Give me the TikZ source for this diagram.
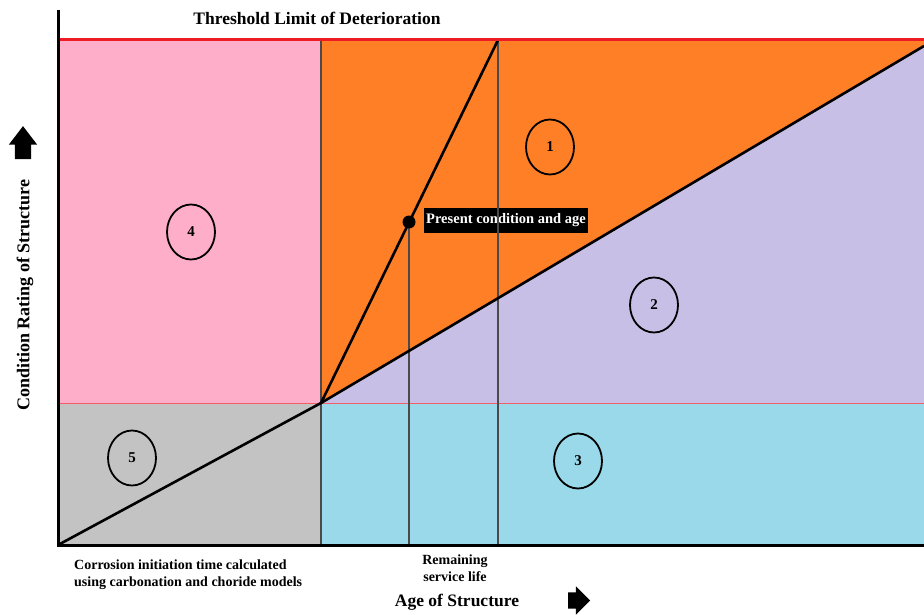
\documentclass[tikz,border=0pt]{standalone}
\usepackage{fontspec}
\setmainfont{Liberation Serif}
\usepackage{xcolor}
\usetikzlibrary{shapes.arrows,shapes.geometric}
\definecolor{rosefill}{HTML}{FFAEC9}
\definecolor{orangefill}{HTML}{FF7F27}
\definecolor{lavfill}{HTML}{C8BFE7}
\definecolor{turqfill}{HTML}{99D9EA}
\definecolor{grayfill}{HTML}{C3C3C3}
\definecolor{limitred}{HTML}{ED1C24}
\definecolor{guideline}{HTML}{4A4A4A}

\begin{document}
\begin{tikzpicture}[
    x=1pt, y=-1pt,
    every node/.style={font=\bfseries},
    zone/.style={ellipse, draw, line width=1.8pt, minimum width=48pt, minimum height=55pt, inner sep=0pt, font=\bfseries\fontsize{15}{17}\selectfont},
    guide/.style={draw=guideline, line width=1.2pt},
    curve/.style={draw=black, line width=2.6pt},
    axis/.style={draw=black, line width=3pt},
    bigtext/.style={font=\bfseries\fontsize{17.5}{20}\selectfont},
    smalltext/.style={font=\bfseries\fontsize{14}{17}\selectfont},
    blockarrow/.style={single arrow, fill=black, inner xsep=0pt, inner ysep=8pt, single arrow head extend=6pt}
]
\useasboundingbox (0,0) rectangle (924,615);

\coordinate (O) at (58,545);
\coordinate (K) at (321,403);
\coordinate (P) at (409,222);
\coordinate (T) at (498,40);
\coordinate (E) at (924,46);

\fill[rosefill] (58,40) rectangle (K);
\fill[grayfill] (58,403) rectangle (321,545);
\fill[turqfill] (K) rectangle (924,545);
\fill[lavfill] (K) -- (E) -- (924,403) -- cycle;
\fill[orangefill] (K) -- (321,40) -- (924,40) -- (E) -- cycle;

\draw[draw=limitred!70, line width=1pt] (58,403) -- (924,403);
\draw[guide] (321,40) -- (321,545);

\node[fill=black, text=white, anchor=west, inner sep=2pt, minimum height=25pt, font=\bfseries\fontsize{14.5}{16}\selectfont] (now) at (424,220) {Present condition and age};

\draw[guide] (P) -- (409,545);
\draw[guide] (T) -- (498,545);
\draw[curve] (O) -- (K) -- (E);
\draw[curve] (K) -- (T);
\fill (P) circle (6.5);

\draw[draw=limitred, line width=3pt] (58,40) -- (924,40);
\draw[axis] (58,10) -- (O) -- (924,545);

\node[zone] (c1) at (550,147) {1};
\node[zone] (c2) at (654,305) {2};
\node[zone] (c3) at (578,461) {3};
\node[zone] (c4) at (191,232) {4};
\node[zone] (c5) at (132,458) {5};

\node[bigtext] (title) at (317,18) {Threshold Limit of Deterioration};
\node[bigtext, rotate=90, font=\bfseries\fontsize{18}{20}\selectfont] (ylab) at (25,295) {Condition Rating of Structure};
\node[blockarrow, rotate=90, minimum height=33pt, single arrow tip angle=75] (yarr) at (23,148) {};
\node[bigtext] (xlab) at (457,602) {Age of Structure};
\node[blockarrow, minimum height=22pt] (xarr) at (575,600.5) {};

\node[smalltext, anchor=north west, align=left, inner sep=0pt] (init) at (74,560) {Corrosion initiation time calculated\\using carbonation and choride models};
\node[smalltext, align=center, inner sep=0pt] (rem) at (455,568.5) {Remaining\\service life};
\end{tikzpicture}
\end{document}
